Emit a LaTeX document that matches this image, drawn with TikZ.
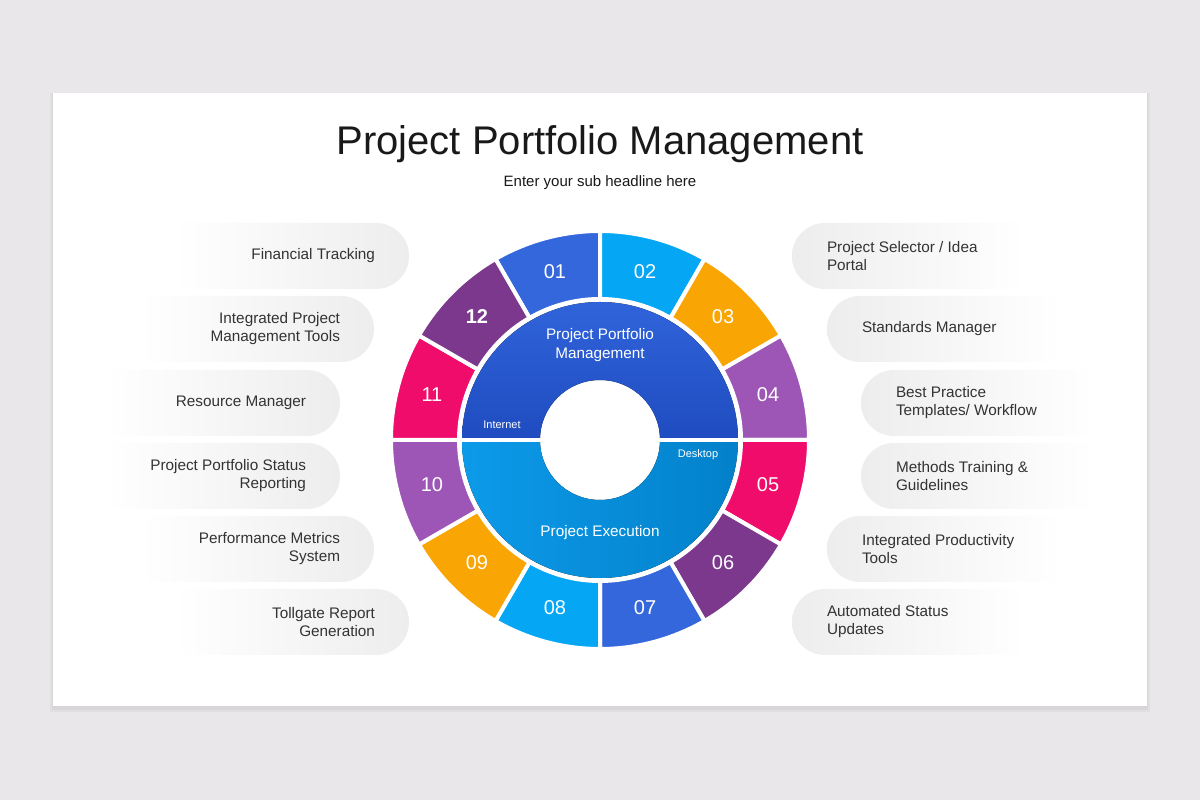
\documentclass[tikz,border=0pt]{standalone}
\usepackage{fontspec}
\setmainfont{Liberation Sans}
\usetikzlibrary{positioning,shapes.misc}

\definecolor{bgGray}{HTML}{E9E7E9}
\definecolor{pillGray}{HTML}{EDEDED}
\definecolor{textDark}{HTML}{333333}
\definecolor{segBlue}{HTML}{3467DC}
\definecolor{segSky}{HTML}{05A7F4}
\definecolor{segOrange}{HTML}{F9A503}
\definecolor{segViolet}{HTML}{9D56B6}
\definecolor{segPink}{HTML}{EF0C6B}
\definecolor{segPlum}{HTML}{7B388D}
\definecolor{diskTop}{HTML}{3063DA}
\definecolor{diskBot}{HTML}{1F4CC0}
\definecolor{execLeft}{HTML}{0C9AE9}
\definecolor{execRight}{HTML}{0381CA}

\begin{document}
\begin{tikzpicture}[x=1pt,y=1pt]
	\tikzstyle{pill_left} = [rounded rectangle, rounded rectangle left arc=none, minimum width=234pt, minimum height=66pt, inner sep=0pt, left color=white, middle color=pillGray!80!white, right color=pillGray]
	\tikzstyle{pill_right} = [rounded rectangle, rounded rectangle right arc=none, minimum width=234pt, minimum height=66pt, inner sep=0pt, left color=pillGray, middle color=pillGray!80!white, right color=white]
	\tikzstyle{text_left} = [inner sep=0pt, align=right, anchor=east, text=textDark, font=\fontsize{15.3}{18}\selectfont]
	\tikzstyle{text_right} = [inner sep=0pt, align=left, anchor=west, text=textDark, font=\fontsize{15.3}{18}\selectfont]
	\tikzstyle{segment} = [draw=white, line width=4pt]
	\tikzstyle{number} = [text=white, font=\fontsize{20}{20}\selectfont]
	\tikzstyle{inner_label} = [text=white, align=center, font=\fontsize{15.3}{19}\selectfont]
	\tikzstyle{tiny_label} = [text=white, font=\fontsize{11}{11}\selectfont]

%----------background and card------------------------------
	\fill[bgGray] (0,0) rectangle (1200,800);
	\fill[black, opacity=0.03] (50,88) rectangle (1150,707);
	\fill[black, opacity=0.04] (52,90) rectangle (1148,707);
	\fill[white] (53,94) rectangle (1147,707);

	\node[font=\fontsize{40}{40}\selectfont, text=black!90] (title) at (600,656) {Project Portfolio Management};
	\node[font=\fontsize{15}{17}\selectfont, text=black!90] (sub) at (600,617) {Enter your sub headline here};

%----------left pills---------------------------------------
	\node[pill_left] (fin) at (292,544) {};
	\node[pill_left] (ipm) at (257,471) {};
	\node[pill_left] (res) at (223,397) {};
	\node[pill_left] (pps) at (223,324) {};
	\node[pill_left] (pms) at (257,251) {};
	\node[pill_left] (tgr) at (292,178) {};

	\node[text_left, left=34pt of fin.east] (fint) {Financial Tracking};
	\node[text_left, left=34pt of ipm.east] (ipmt) {Integrated Project\\Management Tools};
	\node[text_left, left=34pt of res.east] (rest) {Resource Manager};
	\node[text_left, left=34pt of pps.east] (ppst) {Project Portfolio Status\\Reporting};
	\node[text_left, left=34pt of pms.east] (pmst) {Performance Metrics\\System};
	\node[text_left, left=34pt of tgr.east] (tgrt) {Tollgate Report\\Generation};

%----------right pills--------------------------------------
	\node[pill_right] (sel) at (909,544) {};
	\node[pill_right] (std) at (944,471) {};
	\node[pill_right] (bpt) at (978,397) {};
	\node[pill_right] (mtg) at (978,324) {};
	\node[pill_right] (ipt) at (944,251) {};
	\node[pill_right] (ast) at (909,178) {};

	\node[text_right, right=35pt of sel.west] (selt) {Project Selector / Idea\\Portal};
	\node[text_right, right=35pt of std.west] (stdt) {Standards Manager};
	\node[text_right, right=35pt of bpt.west] (bptt) {Best Practice\\Templates/ Workflow};
	\node[text_right, right=35pt of mtg.west] (mtgt) {Methods Training \&\\Guidelines};
	\node[text_right, right=35pt of ipt.west] (iptt) {Integrated Productivity\\Tools};
	\node[text_right, right=35pt of ast.west] (astt) {Automated Status\\Updates};

%----------outer ring---------------------------------------
	\begin{scope}[shift={(600,360)}]
	\filldraw[segment, fill=segBlue] (90:141) arc (90:120:141) -- (120:209) arc (120:90:209) -- cycle;
	\filldraw[segment, fill=segSky] (60:141) arc (60:90:141) -- (90:209) arc (90:60:209) -- cycle;
	\filldraw[segment, fill=segOrange] (30:141) arc (30:60:141) -- (60:209) arc (60:30:209) -- cycle;
	\filldraw[segment, fill=segViolet] (0:141) arc (0:30:141) -- (30:209) arc (30:0:209) -- cycle;
	\filldraw[segment, fill=segPink] (-30:141) arc (-30:0:141) -- (0:209) arc (0:-30:209) -- cycle;
	\filldraw[segment, fill=segPlum] (-60:141) arc (-60:-30:141) -- (-30:209) arc (-30:-60:209) -- cycle;
	\filldraw[segment, fill=segBlue] (-90:141) arc (-90:-60:141) -- (-60:209) arc (-60:-90:209) -- cycle;
	\filldraw[segment, fill=segSky] (-120:141) arc (-120:-90:141) -- (-90:209) arc (-90:-120:209) -- cycle;
	\filldraw[segment, fill=segOrange] (-150:141) arc (-150:-120:141) -- (-120:209) arc (-120:-150:209) -- cycle;
	\filldraw[segment, fill=segViolet] (180:141) arc (180:210:141) -- (210:209) arc (210:180:209) -- cycle;
	\filldraw[segment, fill=segPink] (150:141) arc (150:180:141) -- (180:209) arc (180:150:209) -- cycle;
	\filldraw[segment, fill=segPlum] (120:141) arc (120:150:141) -- (150:209) arc (150:120:209) -- cycle;

	\node[number] (n01) at (105:174) {01};
	\node[number] (n02) at (75:174) {02};
	\node[number] (n03) at (45:174) {03};
	\node[number] (n04) at (15:174) {04};
	\node[number] (n05) at (-15:174) {05};
	\node[number] (n06) at (-45:174) {06};
	\node[number] (n07) at (-75:174) {07};
	\node[number] (n08) at (-105:174) {08};
	\node[number] (n09) at (-135:174) {09};
	\node[number] (n10) at (-165:174) {10};
	\node[number] (n11) at (165:174) {11};
	\node[number, font=\fontsize{20}{20}\bfseries] (n12) at (135:174) {12};

%----------inner disk---------------------------------------
	\fill[top color=diskTop, bottom color=diskBot] (0:138) arc (0:180:138) -- (180:60) arc (180:0:60) -- cycle;
	\fill[left color=execLeft, right color=execRight] (180:138) arc (180:360:138) -- (0:60) arc (0:-180:60) -- cycle;
	\draw[white, line width=4pt] (180:140) -- (0:140);

	\node[inner_label] (ppm) at (0,95) {Project Portfolio\\Management};
	\node[inner_label] (pex) at (0,-93) {Project Execution};
	\node[tiny_label] (inet) at (-98,15) {Internet};
	\node[tiny_label] (desk) at (98,-15) {Desktop};
	\end{scope}

\end{tikzpicture}
\end{document}
